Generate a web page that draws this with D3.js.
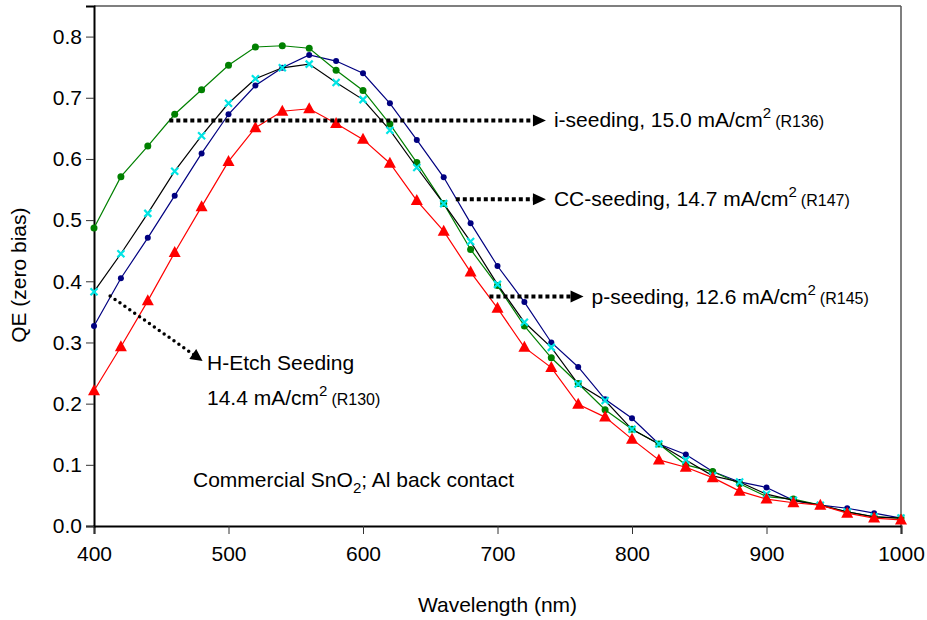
<!DOCTYPE html>
<html>
<head>
<meta charset="utf-8">
<script src="https://cdn.jsdelivr.net/npm/d3@7"></script>
<style>
    body { margin: 0; background: #fff; }
    text { font-family: "Liberation Sans", Arial, sans-serif; fill: #000; }
</style>
</head>
<body>
<script>
//wavelengths (nm), one point every 20 nm
var wavelengths = [400, 420, 440, 460, 480, 500, 520, 540, 560, 580, 600, 620, 640, 660, 680, 700,
    720, 740, 760, 780, 800, 820, 840, 860, 880, 900, 920, 940, 960, 980, 1000];

//QE values
var greenQE = [0.487, 0.571, 0.621, 0.673, 0.713, 0.753, 0.783, 0.785, 0.781, 0.745, 0.712, 0.657, 0.594, 0.527, 0.452, 0.393,
    0.327, 0.275, 0.233, 0.190, 0.158, 0.134, 0.100, 0.089, 0.069, 0.048, 0.044, 0.034, 0.023, 0.015, 0.013];
var blueQE = [0.327, 0.405, 0.471, 0.540, 0.609, 0.673, 0.720, 0.749, 0.770, 0.760, 0.740, 0.691, 0.631, 0.570, 0.495, 0.425,
    0.366, 0.300, 0.260, 0.207, 0.176, 0.134, 0.117, 0.089, 0.072, 0.063, 0.042, 0.034, 0.029, 0.021, 0.013];
var cyanQE = [0.383, 0.445, 0.511, 0.580, 0.638, 0.691, 0.731, 0.749, 0.755, 0.725, 0.697, 0.647, 0.586, 0.527, 0.465, 0.395,
    0.333, 0.292, 0.232, 0.205, 0.158, 0.134, 0.108, 0.082, 0.072, 0.052, 0.042, 0.034, 0.023, 0.015, 0.013];
var redQE = [0.221, 0.293, 0.368, 0.447, 0.522, 0.596, 0.651, 0.678, 0.682, 0.658, 0.632, 0.593, 0.532, 0.482, 0.415, 0.356,
    0.292, 0.259, 0.199, 0.178, 0.142, 0.108, 0.096, 0.079, 0.057, 0.044, 0.038, 0.034, 0.021, 0.013, 0.010];

//axis ticks
var xTicks = [400, 500, 600, 700, 800, 900, 1000];
var yTicks = [0.0, 0.1, 0.2, 0.3, 0.4, 0.5, 0.6, 0.7, 0.8];

//annotation labels
var arrowLabels = [
    {main: "i-seeding, 15.0 mA/cm", run: "(R136)"},
    {main: "CC-seeding, 14.7 mA/cm", run: "(R147)"},
    {main: "p-seeding, 12.6 mA/cm", run: "(R145)"}
];

window.onload = function(){
    var width = 927,
        height = 620,
        margin = {top: 6, right: 26, bottom: 94, left: 94};

    var svg = d3.select("body")
        .append("svg")
        .attr("width", width)
        .attr("height", height);

    var x = d3.scaleLinear()
        .domain([400, 1000])
        .range([margin.left, width - margin.right]);

    var y = d3.scaleLinear()
        .domain([0, 0.85])
        .range([height - margin.bottom, margin.top]);

    //arrowhead marker
    svg.append("defs").append("marker")
        .attr("id", "head")
        .attr("viewBox", "0 0 10 10")
        .attr("refX", 9)
        .attr("refY", 5)
        .attr("markerUnits", "userSpaceOnUse")
        .attr("markerWidth", 13)
        .attr("markerHeight", 12)
        .attr("orient", "auto")
        .append("path")
        .attr("d", "M0,0 L10,5 L0,10 Z")
        .attr("fill", "#000");

    //top and right frame lines
    svg.append("line")
        .attr("x1", x(400)).attr("x2", x(1000))
        .attr("y1", y(0.85)).attr("y2", y(0.85))
        .attr("stroke", "#555").attr("stroke-width", 1.5);
    svg.append("line")
        .attr("x1", x(1000)).attr("x2", x(1000))
        .attr("y1", y(0.85)).attr("y2", y(0))
        .attr("stroke", "#555").attr("stroke-width", 1.5);

    //x axis
    var xAxis = svg.append("g")
        .attr("transform", "translate(0," + y(0) + ")")
        .call(d3.axisBottom(x).tickValues(xTicks).tickSize(8).tickPadding(12).tickFormat(d3.format("d")));

    //y axis
    var yAxis = svg.append("g")
        .attr("transform", "translate(" + x(400) + ",0)")
        .call(d3.axisLeft(y).tickValues(yTicks).tickSize(8).tickPadding(4).tickFormat(d3.format(".1f")));

    svg.selectAll(".domain").attr("stroke", "#000").attr("stroke-width", 2);
    svg.selectAll(".tick line").attr("stroke", "#333").attr("stroke-width", 1);
    svg.selectAll(".tick text").style("font-size", "21px");

    //axis titles
    svg.append("text")
        .attr("x", (x(400) + x(1000)) / 2)
        .attr("y", 612)
        .attr("text-anchor", "middle")
        .style("font-size", "21px")
        .text("Wavelength (nm)");

    svg.append("text")
        .attr("transform", "translate(26," + y(0.41) + ") rotate(-90)")
        .attr("text-anchor", "middle")
        .style("font-size", "21px")
        .text("QE (zero bias)");

    //series lines and markers
    var series = [
        {values: blueQE, line: "#000080", marker: "dot", fill: "#000080", r: 3},
        {values: greenQE, line: "#008000", marker: "dot", fill: "#008000", r: 3.5},
        {values: cyanQE, line: "#000000", marker: "cross", fill: "#00e5e5", r: 4},
        {values: redQE, line: "#ff0000", marker: "tri", fill: "#ff0000", r: 6}
    ];

    var line = d3.line()
        .x(function(d){ return x(d[0]); })
        .y(function(d){ return y(d[1]); });

    series.forEach(function(s){
        var pts = wavelengths.map(function(w, i){ return [w, s.values[i]]; });

        svg.append("path")
            .datum(pts)
            .attr("fill", "none")
            .attr("stroke", s.line)
            .attr("stroke-width", 1.2)
            .attr("d", line);

        var marks = svg.append("g").selectAll("path")
            .data(pts)
            .enter()
            .append("path")
            .attr("transform", function(d){ return "translate(" + x(d[0]) + "," + y(d[1]) + ")"; });

        if (s.marker == "dot") {
            marks.attr("d", d3.symbol().type(d3.symbolCircle).size(Math.PI * s.r * s.r))
                .attr("fill", s.fill);
        } else if (s.marker == "tri") {
            marks.attr("d", "M0,-6.5 L6,4.5 L-6,4.5 Z")
                .attr("fill", s.fill);
        } else {
            marks.attr("d", "M-3.5,-3.5 L3.5,3.5 M-3.5,3.5 L3.5,-3.5")
                .attr("fill", "none")
                .attr("stroke", s.fill)
                .attr("stroke-width", 2.2);
        }
    });

    //dotted arrows, in data units
    var arrows = [
        {x1: 456, y1: 0.663, x2: 736, y2: 0.663},
        {x1: 669, y1: 0.534, x2: 736, y2: 0.534},
        {x1: 694, y1: 0.375, x2: 764, y2: 0.375}
    ];

    svg.selectAll(".arrow")
        .data(arrows)
        .enter()
        .append("line")
        .attr("class", "arrow")
        .attr("x1", function(d){ return x(d.x1); })
        .attr("y1", function(d){ return y(d.y1); })
        .attr("x2", function(d){ return x(d.x2) - 6; })
        .attr("y2", function(d){ return y(d.y2); })
        .attr("stroke", "#000")
        .attr("stroke-width", 4)
        .attr("stroke-dasharray", "4,3");

    svg.selectAll(".head")
        .data(arrows)
        .enter()
        .append("path")
        .attr("d", function(d){
            var tx = x(d.x2), ty = y(d.y2);
            return "M" + tx + "," + ty + " L" + (tx - 13) + "," + (ty - 6) + " L" + (tx - 13) + "," + (ty + 6) + " Z";
        })
        .attr("fill", "#000");

    //labels next to the arrows
    var labels = svg.selectAll(".alabel")
        .data(arrowLabels)
        .enter()
        .append("text")
        .attr("class", "alabel")
        .attr("x", function(d, i){ return x(arrows[i].x2) + 8; })
        .attr("y", function(d, i){ return y(arrows[i].y2) + 7; })
        .style("font-size", "21px");
    labels.append("tspan").text(function(d){ return d.main; });
    labels.append("tspan").attr("dy", -9).style("font-size", "15px").text("2");
    labels.append("tspan").attr("dy", 9).attr("dx", 4).style("font-size", "16px").text(function(d){ return d.run; });

    //H-etch diagonal arrow
    svg.append("line")
        .attr("x1", x(412)).attr("y1", y(0.376))
        .attr("x2", x(480)).attr("y2", y(0.271))
        .attr("stroke", "#000")
        .attr("stroke-width", 3.5)
        .attr("stroke-linecap", "round")
        .attr("stroke-dasharray", "0,6")
        .attr("marker-end", "url(#head)");

    svg.append("text")
        .attr("x", 207)
        .attr("y", 370)
        .style("font-size", "21px")
        .text("H-Etch Seeding");

    var hLabel = svg.append("text")
        .attr("x", 207)
        .attr("y", 405)
        .style("font-size", "21px");
    hLabel.append("tspan").text("14.4 mA/cm");
    hLabel.append("tspan").attr("dy", -9).style("font-size", "15px").text("2");
    hLabel.append("tspan").attr("dy", 9).attr("dx", 4).style("font-size", "16px").text("(R130)");

    //substrate note
    var note = svg.append("text")
        .attr("x", 193)
        .attr("y", 487)
        .style("font-size", "21px");
    note.append("tspan").text("Commercial SnO");
    note.append("tspan").attr("dy", 6).style("font-size", "15px").text("2");
    note.append("tspan").attr("dy", -6).text("; Al back contact");
};
</script>
</body>
</html>
